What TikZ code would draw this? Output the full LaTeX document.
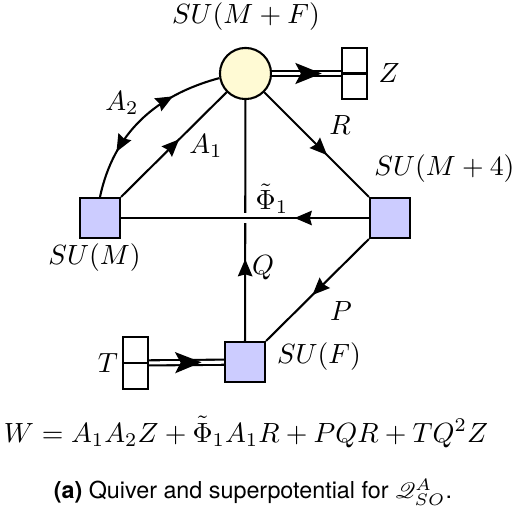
\documentclass[tikz,border=0pt]{standalone}
\usepackage{fontspec}
\usepackage{mathrsfs}
\usetikzlibrary{arrows.meta,decorations.markings}
\newfontfamily\capfont{TeX Gyre Heros}
\definecolor{gaugefill}{RGB}{255,250,212}
\definecolor{flavfill}{RGB}{204,204,255}
\begin{document}
\begin{tikzpicture}[x=0.36pt,y=0.36pt,line width=0.75pt,
  gauge/.style={circle,draw,fill=gaugefill,minimum size=18.4pt,inner sep=0pt},
  flav/.style={rectangle,draw,fill=flavfill,minimum size=14.4pt,inner sep=0pt},
  fbox/.style={rectangle,draw,fill=white,minimum width=9pt,minimum height=18.4pt,inner sep=0pt},
  lbl/.style={inner sep=0pt},
  midarrow/.style={postaction={decorate},decoration={markings,
     mark=at position #1 with {\arrow{Stealth[length=6.2pt,width=5.2pt,inset=0.7pt]}}}},
  dblline/.style={double,double distance=1.1pt},
  dblarrow/.style={decoration={markings,
     mark=at position #1 with {\arrow[line width=0.6pt]{Stealth[length=9.5pt,width=7.6pt,inset=2pt]}}},decorate}
]
\useasboundingbox (0,0) rectangle (513,507);
% nodes
\node[gauge] (c) at (245.5,433.5) {};
\node[fbox] (zb) at (354.5,433.5) {};
\draw (zb.west) -- (zb.east);
\node[flav] (m) at (100,289) {};
\node[flav] (m4) at (390,289) {};
\node[flav] (f) at (245,145) {};
\node[fbox] (tb) at (135.5,144) {};
\draw (tb.west) -- (tb.east);
% labels
\node[lbl] (lc) at (246,490) {$SU(M+F)$};
\node[lbl] (lz) at (389,434) {$Z$};
\node[lbl] (lm) at (94.5,249) {$SU(M)$};
\node[lbl] (lm4) at (444.5,338) {$SU(M+4)$};
\node[lbl] (lf) at (319,150) {$SU(F)$};
\node[lbl] (lt) at (108,144) {$T$};
\node[lbl] (la2) at (122,404) {$A_2$};
\node[lbl] (la1) at (206,361) {$A_1$};
\node[lbl] (lr) at (340,382) {$R$};
\node[lbl] (lphi) at (272,308) {$\tilde\Phi_1$};
\node[lbl] (lq) at (263,239) {$Q$};
\node[lbl] (lp) at (341,196) {$P$};
% edges
\draw[midarrow=0.34] (f) -- (c);
\draw[midarrow=0.3,preaction={draw=white,line width=3.3pt}] (m4) -- (m);
\draw[midarrow=0.6] (c) -- (m4.north west);
\draw[midarrow=0.55] (m4.south west) -- (f.north east);
\draw[midarrow=0.55] (m.north east) -- (c);
\draw[postaction={decorate},decoration={markings,
   mark=at position 0.27 with {\arrowreversed{Stealth[length=6.2pt,width=5.2pt,inset=0.7pt]}},
   mark=at position 0.72 with {\arrow{Stealth[length=6.2pt,width=5.2pt,inset=0.7pt]}}}]
   (m.north) to[out=78,in=195] (c.190);
\draw[dblline] (c) -- (zb);
\path[dblarrow=0.72] (c.east) -- (zb.west);
\draw[dblline] (tb) -- (f);
\path[dblarrow=0.7] (tb.east) -- (f.west);
% superpotential and caption
\node[lbl,anchor=base] (w) at (246,65) {$W=A_1A_2Z+\tilde\Phi_1A_1R+PQR+TQ^2Z$};
\node[lbl,anchor=base] (cap) at (253,9) {\capfont\fontsize{8.4}{10}\selectfont\textbf{(a)} Quiver and superpotential for $\mathscr{Q}^A_{SO}$.};
\end{tikzpicture}
\end{document}
